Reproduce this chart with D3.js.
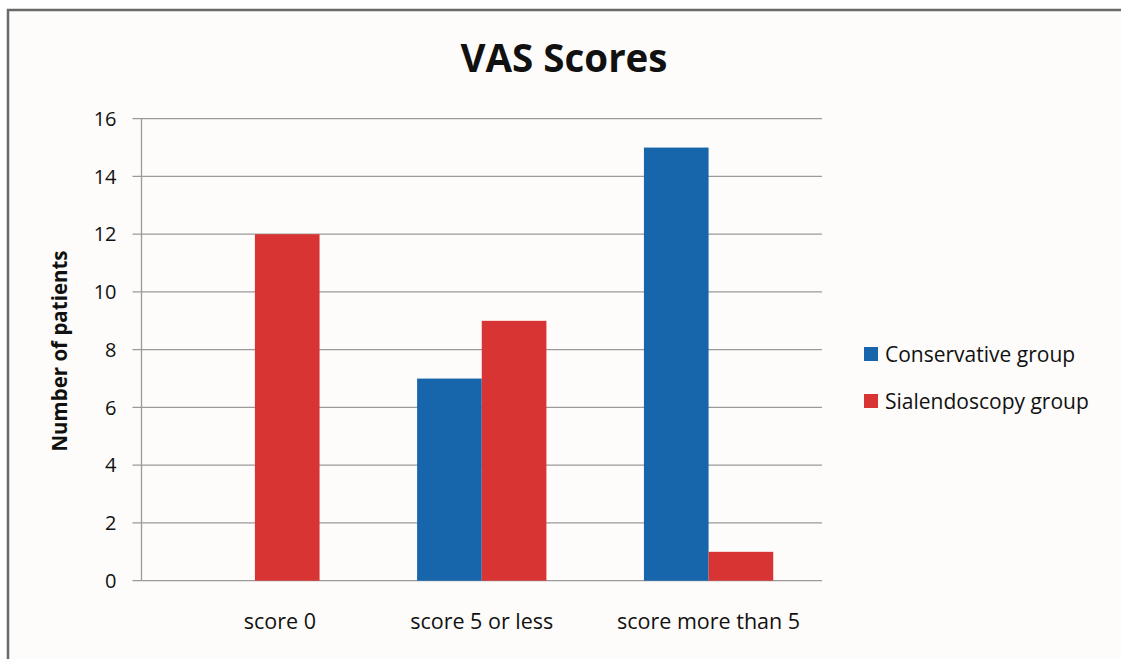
<!DOCTYPE html>
<html>
<head>
<meta charset="utf-8">
<script src="https://cdn.jsdelivr.net/npm/d3@7"></script>
<style>
  html, body { margin: 0; padding: 0; background: #ffffff; }
  svg { display: block; }
  text { font-family: "Open Sans", sans-serif; fill: #111; }
</style>
</head>
<body>
<svg id="chart" width="1121" height="659"></svg>
<script>
// Chart data
const categories = ["score 0", "score 5 or less", "score more than 5"];
const seriesNames = ["Conservative group", "Sialendoscopy group"];
const conservative = [0, 7, 15];
const sialendoscopy = [12, 9, 1];
const yTicks = [0, 2, 4, 6, 8, 10, 12, 14, 16];
const colors = ["#1766ab", "#d83434"];

const svg = d3.select("#chart");
const W = 1121, H = 659;

// chart frame
svg.append("rect")
  .attr("x", 8).attr("y", 10)
  .attr("width", W + 10).attr("height", H + 10)
  .attr("fill", "#fdfcfa")
  .attr("stroke", "#6a6a6a").attr("stroke-width", 2.5);

const plot = { left: 141.5, right: 822, top: 118.7, bottom: 580.7 };

const x = d3.scaleBand()
  .domain(categories)
  .range([plot.left, plot.right])
  .paddingInner(0.43).paddingOuter(0.215);

const xSeries = d3.scaleBand()
  .domain(seriesNames)
  .range([0, x.bandwidth()]);

const y = d3.scaleLinear().domain([0, 16]).range([plot.bottom, plot.top]);

// gridlines
svg.append("g")
  .selectAll("line")
  .data(yTicks)
  .join("line")
  .attr("x1", plot.left - 9).attr("x2", plot.right)
  .attr("y1", d => y(d)).attr("y2", d => y(d))
  .attr("stroke", "#9a9a9a").attr("stroke-width", 1.3);

// y axis line
svg.append("line")
  .attr("x1", plot.left).attr("x2", plot.left)
  .attr("y1", plot.top).attr("y2", plot.bottom)
  .attr("stroke", "#9a9a9a").attr("stroke-width", 1.3);

// y tick labels
svg.append("g")
  .selectAll("text")
  .data(yTicks)
  .join("text")
  .attr("x", plot.left - 25)
  .attr("y", d => y(d))
  .attr("dy", "0.36em")
  .attr("text-anchor", "end")
  .style("font-size", "20px")
  .text(d => d);

// bars
const rows = categories.map((c, i) => ({ cat: c, values: [conservative[i], sialendoscopy[i]] }));
svg.append("g")
  .selectAll("g")
  .data(rows)
  .join("g")
  .attr("transform", d => `translate(${x(d.cat)},0)`)
  .selectAll("rect")
  .data(d => d.values.map((v, j) => ({ name: seriesNames[j], v, j })))
  .join("rect")
  .attr("x", d => xSeries(d.name))
  .attr("width", xSeries.bandwidth())
  .attr("y", d => y(d.v))
  .attr("height", d => y(0) - y(d.v))
  .attr("fill", d => colors[d.j]);

// x category labels (the first one sits a little right of its band centre)
svg.append("g")
  .selectAll("text")
  .data(categories)
  .join("text")
  .attr("x", d => x(d) + x.bandwidth() / 2)
  .attr("dx", (d, i) => (i === 0 ? 25 : 0))
  .attr("y", 629)
  .attr("text-anchor", "middle")
  .style("font-size", "21.5px")
  .text(d => d);

// title
svg.append("text")
  .attr("x", 564).attr("y", 72)
  .attr("text-anchor", "middle")
  .style("font-size", "38.5px").style("font-weight", "bold")
  .text("VAS Scores");

// y axis title
svg.append("text")
  .attr("transform", `translate(67,351) rotate(-90)`)
  .attr("text-anchor", "middle")
  .style("font-size", "20.5px").style("font-weight", "bold")
  .text("Number of patients");

// legend
const legend = svg.append("g")
  .selectAll("g")
  .data(seriesNames)
  .join("g")
  .attr("transform", (d, i) => `translate(864,${354 + i * 47})`);
legend.append("rect")
  .attr("x", 0).attr("y", -7)
  .attr("width", 14).attr("height", 14)
  .attr("fill", (d, i) => colors[i]);
legend.append("text")
  .attr("x", 21).attr("y", 0)
  .attr("dy", "0.36em")
  .style("font-size", "21px")
  .text(d => d);
</script>
</body>
</html>
